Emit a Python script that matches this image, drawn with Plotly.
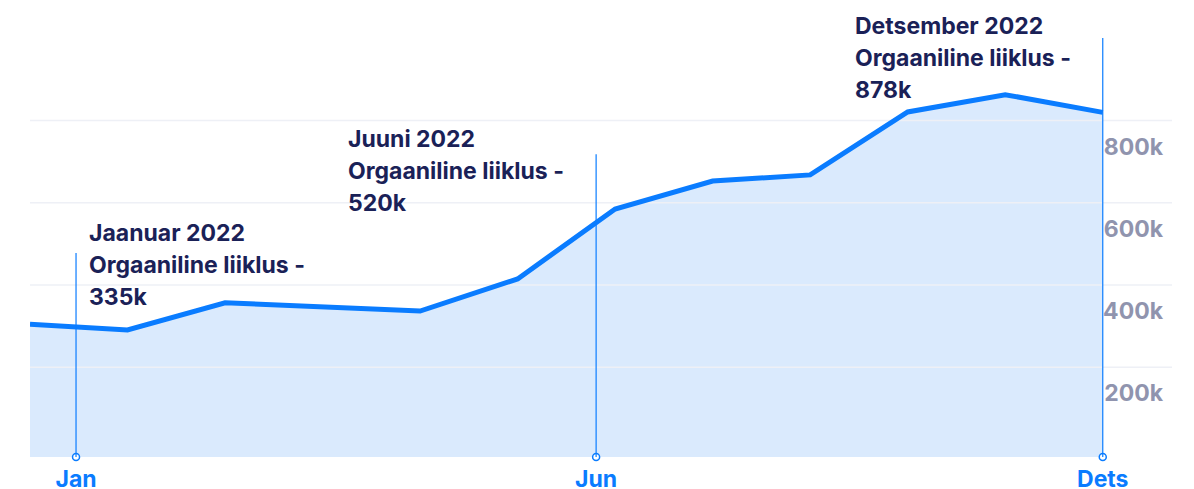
import plotly.graph_objects as go

# ---- data ----
PERIODS = list(range(12))
TRAFFIC = [305000, 291000, 357000, 347000, 337000, 415000, 585000, 653000, 668000, 821000, 863000, 820000]

TICK_POS = [0.472, 5.805, 11.0]
TICK_TEXT = ["Jan", "Jun", "Dets"]

Y_TICKS = [200000, 400000, 600000, 800000]
Y_TICK_TEXT = ["200k", "400k", "600k", "800k"]

NOTE_X = [0.585, 3.245, 8.44]
NOTE_Y = [527700, 755000, 1030000]
NOTE_LINES = [
    ["Jaanuar 2022", "Orgaaniline liiklus -", "335k"],
    ["Juuni 2022", "Orgaaniline liiklus -", "520k"],
    ["Detsember 2022", "Orgaaniline liiklus -", "878k"],
]
MARKER_TOP = [478000, 718000, 1001000]

# ---- style ----
Y_MIN, Y_MAX = -18000, 1069000
X_MIN, X_MAX = 0, 11.71
BLUE = "#0A7CFF"
FILL = "#DAEAFD"
NAVY = "#1A2157"
GREY = "#9094AE"
GRID = "#EEF0F6"
FONT = "Inter"

fig = go.Figure()

# baseline for fill
fig.add_trace(go.Scatter(x=PERIODS, y=[Y_MIN] * len(PERIODS), mode="lines",
                         line=dict(width=0, color=FILL), hoverinfo="skip",
                         showlegend=False))
fig.add_trace(go.Scatter(x=PERIODS, y=TRAFFIC, mode="lines", fill="tonexty",
                         fillcolor=FILL, line=dict(width=0, color=FILL),
                         hoverinfo="skip", showlegend=False))
# gridlines drawn between the fill and the line, at the tick values
for v in Y_TICKS:
    fig.add_trace(go.Scatter(x=[X_MIN, X_MAX], y=[v, v], mode="lines",
                             line=dict(width=1.5, color=GRID), hoverinfo="skip",
                             showlegend=False))
fig.add_trace(go.Scatter(x=PERIODS, y=TRAFFIC, mode="lines",
                         line=dict(width=5, color=BLUE),
                         showlegend=False))

shapes = []
for xp, top in zip(TICK_POS, MARKER_TOP):
    shapes.append(dict(type="line", xref="x", yref="y", x0=xp, x1=xp,
                       y0=Y_MIN, y1=top, line=dict(color=BLUE, width=1.2),
                       layer="above"))

fig.add_trace(go.Scatter(x=TICK_POS, y=[Y_MIN] * len(TICK_POS), mode="markers",
                         marker=dict(size=7, color="white",
                                     line=dict(color=BLUE, width=1.5)),
                         cliponaxis=False, showlegend=False,
                         hoverinfo="skip"))

annotations = []
for nx, ny, lines in zip(NOTE_X, NOTE_Y, NOTE_LINES):
    for i, t in enumerate(lines):
        annotations.append(dict(x=nx, y=ny, xref="x", yref="y", text=t,
                                showarrow=False, xanchor="left", yanchor="middle",
                                yshift=-32 * i,
                                font=dict(family=FONT, size=23, color=NAVY, weight=700)))

# page body has an 8px margin, so the figure is offset by 8px; margins compensate
fig.update_layout(
    width=1194, height=489,
    margin=dict(l=22, r=30, t=2, b=40, autoexpand=False),
    paper_bgcolor="white", plot_bgcolor="white",
    shapes=shapes, annotations=annotations,
    xaxis=dict(range=[X_MIN, X_MAX], showgrid=False, zeroline=False,
               showline=False, tickvals=TICK_POS, ticktext=TICK_TEXT,
               ticks="", ticklabelstandoff=6, automargin=False,
               ticklabeloverflow="allow",
               tickfont=dict(family=FONT, size=23, color=BLUE, weight=700)),
    yaxis=dict(range=[Y_MIN, Y_MAX], side="right", showgrid=False,
               zeroline=False, showline=False, automargin=False,
               tickvals=Y_TICKS, ticktext=Y_TICK_TEXT, ticks="",
               ticklabelposition="inside", ticklabelshift=26,
               ticklabelstandoff=6, ticklabeloverflow="allow",
               tickfont=dict(family=FONT, size=23, color=GREY, weight=700)),
)

fig.write_html("out.html")
